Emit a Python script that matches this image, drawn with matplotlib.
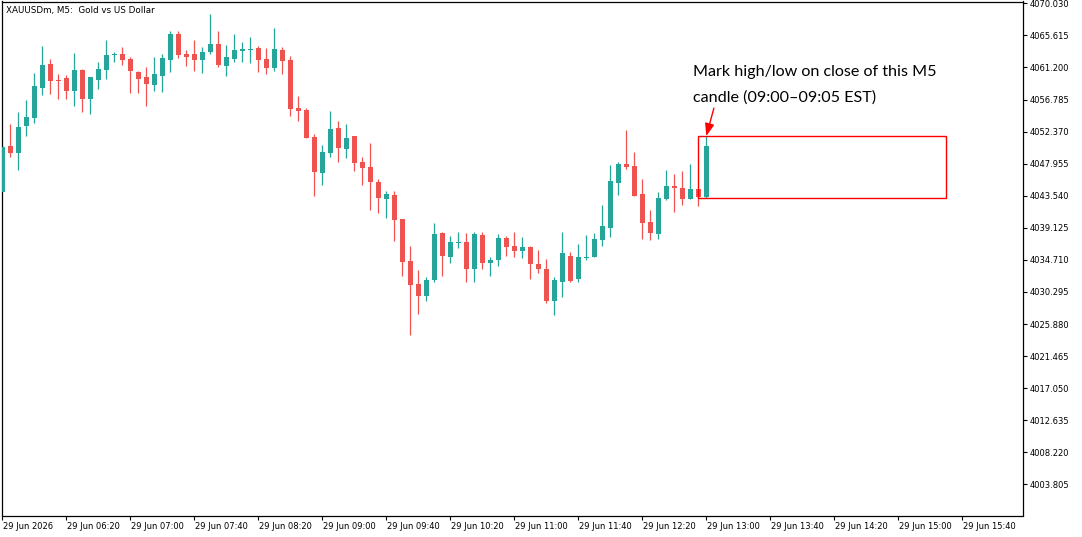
import matplotlib
matplotlib.use("Agg")
import matplotlib.pyplot as plt
import matplotlib.transforms as mtransforms
from matplotlib.patches import Rectangle

# M5 candles, 05:40 .. 13:00
opens = [4044.09, 4050.38, 4049.46, 4053.18, 4054.28, 4058.41, 4061.67, 4059.47, 4059.74, 4057.99,
         4060.84, 4056.89, 4059.51, 4060.89, 4062.87, 4063.05, 4062.36, 4060.57, 4059.88, 4058.82,
         4060.06, 4062.22, 4065.80, 4063.05, 4063.05, 4062.22, 4063.32, 4064.47, 4061.44, 4062.40,
         4063.50, 4063.60, 4063.87, 4062.36, 4061.16, 4063.60, 4062.22, 4055.66, 4055.38, 4051.66,
         4046.71, 4049.46, 4052.86, 4050.01, 4051.76, 4048.22, 4047.49, 4045.43, 4043.13, 4043.64,
         4040.33, 4034.55, 4031.43, 4029.78, 4031.94, 4038.41, 4035.15, 4037.03, 4037.17, 4033.49,
         4038.13, 4034.32, 4034.73, 4037.72, 4036.62, 4035.97, 4036.48, 4034.18, 4033.45, 4029.09,
         4031.70, 4035.24, 4032.12, 4034.97, 4035.15, 4037.49, 4039.14, 4045.33, 4047.91, 4047.63,
         4043.78, 4039.92, 4038.31, 4043.09, 4044.88, 4044.60, 4043.13, 4044.46, 4043.40]
highs = [4050.52, 4053.41, 4055.06, 4056.72, 4060.43, 4064.15, 4062.36, 4060.29, 4060.20, 4063.18,
         4060.98, 4059.88, 4061.95, 4064.97, 4063.32, 4064.01, 4062.63, 4060.71, 4061.26, 4062.63,
         4063.05, 4066.21, 4066.21, 4063.60, 4064.97, 4064.01, 4068.55, 4066.21, 4064.29, 4065.80,
         4064.70, 4065.39, 4064.15, 4063.87, 4066.63, 4064.01, 4062.77, 4057.27, 4055.66, 4052.04,
         4050.52, 4055.20, 4053.82, 4053.41, 4051.76, 4048.91, 4050.80, 4045.84, 4044.19, 4044.19,
         4040.33, 4036.66, 4033.36, 4032.39, 4039.78, 4038.55, 4038.00, 4038.55, 4038.41, 4038.55,
         4038.55, 4035.10, 4038.27, 4038.00, 4038.55, 4037.86, 4036.62, 4036.07, 4034.83, 4032.35,
         4038.55, 4035.79, 4036.89, 4038.13, 4038.41, 4042.26, 4047.77, 4048.18, 4052.59, 4049.56,
         4045.84, 4041.57, 4044.05, 4047.08, 4046.53, 4046.94, 4047.91, 4044.46, 4051.76]
lows = [4044.05, 4048.87, 4047.08, 4051.80, 4053.59, 4057.45, 4057.58, 4056.89, 4056.89, 4055.89,
        4055.10, 4054.83, 4058.27, 4059.65, 4061.99, 4061.53, 4057.72, 4057.72, 4055.93, 4057.99,
        4057.86, 4060.61, 4062.54, 4061.44, 4060.75, 4060.47, 4063.09, 4061.30, 4060.06, 4061.99,
        4061.99, 4061.85, 4060.61, 4060.34, 4060.75, 4060.34, 4054.55, 4053.87, 4051.53, 4043.54,
        4045.06, 4048.91, 4048.22, 4048.77, 4046.98, 4045.06, 4041.62, 4041.20, 4040.51, 4037.35,
        4032.53, 4024.41, 4027.30, 4029.09, 4031.70, 4032.53, 4034.32, 4036.38, 4031.70, 4031.70,
        4033.49, 4032.53, 4033.91, 4035.28, 4035.15, 4035.01, 4032.12, 4032.94, 4028.81, 4027.16,
        4029.64, 4031.70, 4031.70, 4034.73, 4035.15, 4036.66, 4037.90, 4043.68, 4047.26, 4043.54,
        4037.62, 4037.49, 4037.62, 4042.95, 4041.34, 4042.30, 4043.13, 4042.17, 4043.27]
closes = [4050.29, 4049.46, 4053.00, 4054.38, 4058.64, 4061.53, 4059.37, 4059.33, 4057.99, 4060.84,
          4056.89, 4059.88, 4060.98, 4062.91, 4063.09, 4062.26, 4060.75, 4059.65, 4058.96, 4060.29,
          4062.50, 4065.80, 4062.95, 4062.68, 4062.22, 4063.32, 4064.47, 4061.57, 4062.63, 4063.60,
          4063.74, 4063.74, 4062.26, 4061.16, 4063.74, 4062.12, 4055.52, 4055.24, 4051.53, 4046.85,
          4049.56, 4052.72, 4050.15, 4051.48, 4048.08, 4047.40, 4045.47, 4043.27, 4043.78, 4040.24,
          4034.46, 4031.29, 4029.78, 4031.94, 4038.27, 4035.28, 4037.17, 4037.17, 4033.49, 4038.27,
          4034.32, 4034.69, 4037.72, 4036.52, 4035.97, 4036.48, 4034.18, 4033.49, 4029.09, 4031.94,
          4035.66, 4031.84, 4035.10, 4035.10, 4037.58, 4039.37, 4045.57, 4047.91, 4047.53, 4043.54,
          4039.83, 4038.45, 4043.23, 4044.88, 4044.60, 4043.13, 4044.46, 4043.40, 4050.38]

time_labels = ["29 Jun 2026", "29 Jun 06:20", "29 Jun 07:00", "29 Jun 07:40", "29 Jun 08:20",
               "29 Jun 09:00", "29 Jun 09:40", "29 Jun 10:20", "29 Jun 11:00", "29 Jun 11:40",
               "29 Jun 12:20", "29 Jun 13:00", "29 Jun 13:40", "29 Jun 14:20", "29 Jun 15:00",
               "29 Jun 15:40"]
price_ticks = [4003.805, 4008.220, 4012.635, 4017.050, 4021.465, 4025.880, 4030.295, 4034.710,
               4039.125, 4043.540, 4047.955, 4052.370, 4056.785, 4061.200, 4065.615, 4070.030]

# box from the last candle's high/low, bar 87 .. bar 118
box_start, box_end = 87, 118

UP = "#26a69a"
DOWN = "#ef5350"

fig = plt.figure(figsize=(10.82, 5.37), dpi=100)
ax = fig.add_axes([2 / 1082, 21.5 / 537, 1021 / 1082, 514 / 537])

n = len(opens)
xs = list(range(n))
cols = [UP if c >= o else DOWN for o, c in zip(opens, closes)]
bottoms = [min(o, c) for o, c in zip(opens, closes)]
heights = [max(abs(c - o), 0.14) for o, c in zip(opens, closes)]

ax.vlines(xs, lows, highs, colors=cols, lw=0.9, zorder=2)
ax.bar(xs, heights, bottom=bottoms, width=0.62, color=cols, lw=0, zorder=3)

last = n - 1
ax.add_patch(Rectangle((box_start, lows[last]), box_end - box_start, highs[last] - lows[last],
                       fill=False, edgecolor="#ff0000", lw=1.0, zorder=4))

ax.annotate("", xy=(last, highs[last]), xytext=(last + 0.95, 4055.6),
            arrowprops=dict(arrowstyle="-|>,head_length=0.75,head_width=0.28",
                            color="#ff0000", lw=1.0, mutation_scale=10,
                            shrinkA=0, shrinkB=0), zorder=5)
ax.text(86.3, 4060.0, "Mark high/low on close of this M5", fontsize=11.6,
        family="Lato", va="baseline", ha="left", color="black")
ax.text(86.3, 4056.5, "candle (09:00\u201309:05 EST)", fontsize=11.6,
        family="Lato", va="baseline", ha="left", color="black")

ax.set_xlim(-0.04, 127.59)
ax.set_ylim(3999.53, 4070.28)

# axes like the terminal: prices right, times below
ax.yaxis.tick_right()
ax.set_yticks(price_ticks)
ax.set_yticklabels(["%.3f" % p for p in price_ticks])
ax.set_xticks(list(range(0, 8 * len(time_labels), 8)))
ax.set_xticklabels(time_labels, ha="left")
ax.tick_params(axis="both", labelsize=6, length=3.2, width=0.8, color="black", direction="out")
ax.tick_params(axis="x", pad=1.5)
ax.tick_params(axis="y", pad=1.5)
offset = mtransforms.ScaledTranslation(1 / 100, 0, fig.dpi_scale_trans)
for lab in ax.get_xticklabels():
    lab.set_transform(lab.get_transform() + offset)

for sp in ax.spines.values():
    sp.set_linewidth(0.9)
    sp.set_color("black")

fig.text(6.5 / 1082, 1 - 13.5 / 537, "XAUUSDm, M5:  Gold vs US Dollar", fontsize=6.3,
         va="baseline", ha="left")

fig.savefig("out.png", dpi=100)
